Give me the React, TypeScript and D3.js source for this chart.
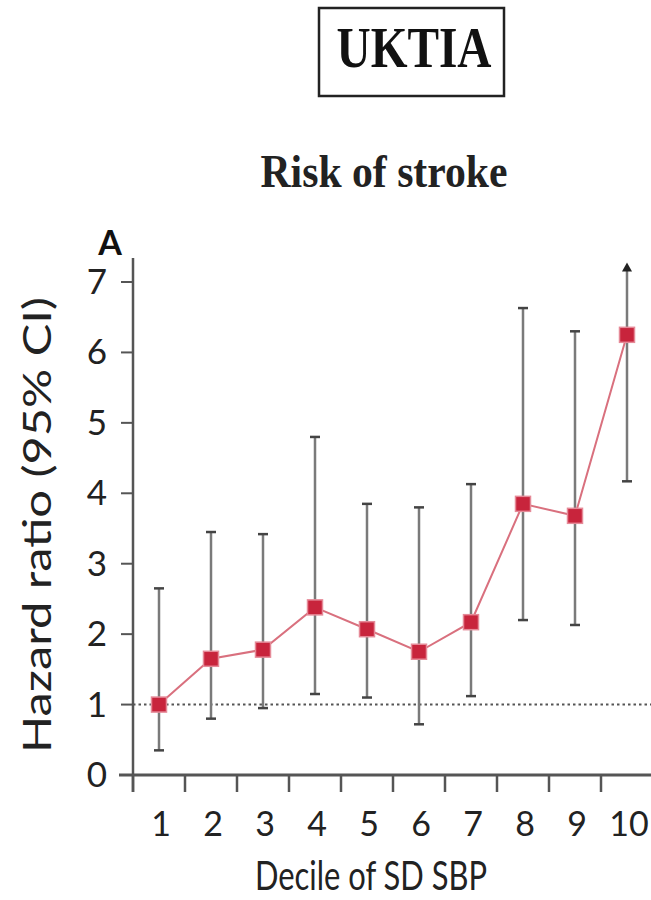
import React from "react";
import * as d3 from "d3";

// Hazard ratio by decile of SD SBP (UKTIA, risk of stroke)
const deciles = [1, 2, 3, 4, 5, 6, 7, 8, 9, 10];
const hazardRatio = [1.0, 1.65, 1.78, 2.38, 2.07, 1.75, 2.17, 3.85, 3.68, 6.25];
const ciLower = [0.35, 0.8, 0.95, 1.15, 1.1, 0.72, 1.12, 2.2, 2.13, 4.17];
const ciUpper = [2.65, 3.45, 3.42, 4.8, 3.85, 3.8, 4.13, 6.63, 6.3, 7.25];
// upper bound exceeds the axis range -> drawn with an arrow
const ciOpen = [false, false, false, false, false, false, false, false, false, true];
const yTicks = [0, 1, 2, 3, 4, 5, 6, 7];

const W = 651;
const H = 900;

export default function App() {
  const x = d3
    .scaleBand<number>()
    .domain(deciles)
    .range([133, 653])
    .paddingInner(0)
    .paddingOuter(0);
  const y = d3.scaleLinear().domain([0, 7]).range([775, 282]);
  const cx = (d: number) => (x(d) as number) + x.bandwidth() / 2;

  const line = d3
    .line<number>()
    .x((_, i) => cx(deciles[i]))
    .y((v) => y(v));

  const sans = "Lato, 'Open Sans', sans-serif";
  const serif = "'Liberation Serif', 'DejaVu Serif', serif";
  const boundaries = deciles.map((d) => x(d) as number);

  return (
    <svg
      width={W}
      height={H}
      viewBox={`0 0 ${W} ${H}`}
      style={{ position: "absolute", left: 0, top: 0, background: "#fff" }}
    >
      {/* boxed cohort title */}
      <rect x={319} y={8} width={185} height={88} fill="none" stroke="#222" strokeWidth={2.5} />
      <text x={414} y={67} textAnchor="middle" fontFamily={serif} fontWeight={700} fontSize={56} fill="#111" textLength={155} lengthAdjust="spacingAndGlyphs">
        UKTIA
      </text>
      <text x={384} y={187} textAnchor="middle" fontFamily={serif} fontWeight={700} fontSize={46} fill="#222" textLength={247} lengthAdjust="spacingAndGlyphs">
        Risk of stroke
      </text>
      <text x={110} y={255} textAnchor="middle" fontFamily={sans} fontWeight={700} fontSize={34} fill="#111">
        A
      </text>

      {/* reference line at HR = 1 */}
      <line x1={133} x2={W} y1={y(1)} y2={y(1)} stroke="#555" strokeWidth={2} strokeDasharray="2.5 3" />

      {/* y axis */}
      <line x1={133} x2={133} y1={258} y2={792} stroke="#555" strokeWidth={2.5} />
      {yTicks.map((t) => (
        <g key={t}>
          <line x1={121} x2={133} y1={y(t)} y2={y(t)} stroke="#555" strokeWidth={2} />
          <text x={107} y={y(t) + 12} textAnchor="end" fontFamily={sans} fontSize={35} fill="#222">
            {t}
          </text>
        </g>
      ))}
      <text
        transform={`translate(51, ${525}) rotate(-90)`}
        textAnchor="middle"
        fontFamily={sans}
        fontSize={38}
        fill="#222"
        textLength={456}
        lengthAdjust="spacingAndGlyphs"
      >
        Hazard ratio (95% CI)
      </text>

      {/* x axis */}
      <line x1={119} x2={W} y1={775} y2={775} stroke="#555" strokeWidth={3} />
      {boundaries.map((b, i) => (
        <line key={i} x1={b} x2={b} y1={775} y2={792} stroke="#555" strokeWidth={2.5} />
      ))}
      {deciles.map((d) => (
        <text key={d} x={cx(d) + 2} y={836} textAnchor="middle" fontFamily={sans} fontSize={34} fill="#222">
          {d}
        </text>
      ))}
      <text x={371} y={890} textAnchor="middle" fontFamily={sans} fontSize={40} fill="#222" textLength={232} lengthAdjust="spacingAndGlyphs">
        Decile of SD SBP
      </text>

      {/* confidence intervals */}
      {deciles.map((d, i) => {
        const px = cx(d);
        return (
          <g key={d}>
            <line x1={px} x2={px} y1={y(ciLower[i])} y2={y(ciUpper[i]) + (ciOpen[i] ? 6 : 0)} stroke="#7a7a7a" strokeWidth={2.5} />
            <line x1={px - 5} x2={px + 5} y1={y(ciLower[i])} y2={y(ciLower[i])} stroke="#444" strokeWidth={2.5} />
            {ciOpen[i] ? (
              <path d={`M${px - 5},${y(ciUpper[i]) + 7} L${px + 5},${y(ciUpper[i]) + 7} L${px},${y(ciUpper[i]) - 2} Z`} fill="#222" />
            ) : (
              <line x1={px - 5} x2={px + 5} y1={y(ciUpper[i])} y2={y(ciUpper[i])} stroke="#444" strokeWidth={2.5} />
            )}
          </g>
        );
      })}

      {/* point estimates */}
      <path d={line(hazardRatio) as string} fill="none" stroke="#d9707e" strokeWidth={2} />
      {deciles.map((d, i) => (
        <rect
          key={d}
          x={cx(d) - 7.5}
          y={y(hazardRatio[i]) - 7.5}
          width={15}
          height={15}
          fill="#c8243c"
          stroke="#e58a98"
          strokeWidth={1.5}
        />
      ))}
    </svg>
  );
}
